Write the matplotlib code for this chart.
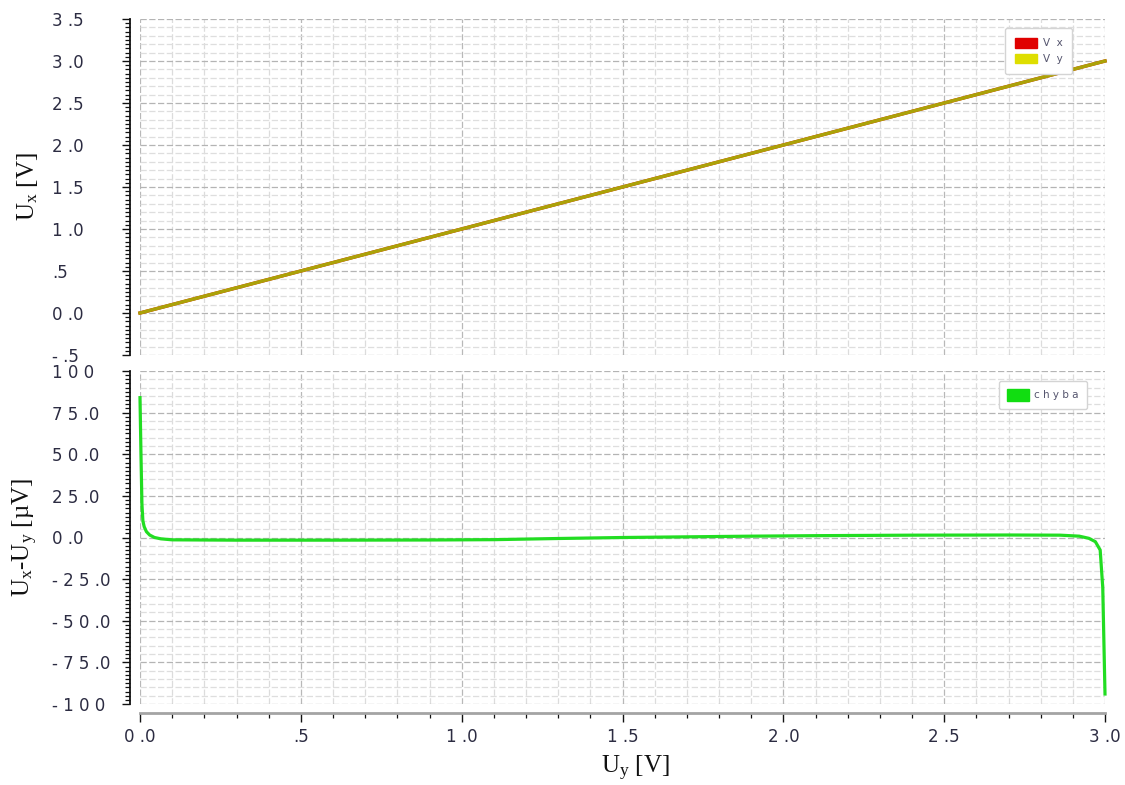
import numpy as np
import matplotlib
matplotlib.use("Agg")
import matplotlib.pyplot as plt
from matplotlib.patches import Patch

# ---- data -------------------------------------------------------------
# sweep of the input voltage Uy [V]
uy_sweep = [0.0, 3.0]
# output voltages over the sweep [V]
vx = [0.0, 3.0]
vy = [0.0, 3.0]

# error Ux - Uy [uV] versus Uy [V]
err_uy = [0.000, 0.003, 0.006, 0.009, 0.013, 0.020, 0.030, 0.045, 0.065,
          0.10, 0.30, 0.60, 0.90, 1.10, 1.30, 1.50, 1.70, 1.90, 2.10,
          2.40, 2.70, 2.86, 2.92, 2.95, 2.97, 2.985, 2.993, 3.000]
chyba = [84.0, 50.0, 20.0, 10.0, 6.5, 3.5, 1.5, 0.0, -0.8,
         -1.4, -1.6, -1.6, -1.5, -1.3, -0.6, 0.0, 0.4, 0.8, 1.1,
         1.4, 1.5, 1.4, 0.8, -0.5, -2.5, -7.5, -30.0, -94.0]

# tick positions and labels
x_ticks = [0.0, 0.5, 1.0, 1.5, 2.0, 2.5, 3.0]
x_labels = ["0 .0", ".5", "1 .0", "1 .5", "2 .0", "2 .5", "3 .0"]
top_ticks = [-0.5, 0.0, 0.5, 1.0, 1.5, 2.0, 2.5, 3.0, 3.5]
top_labels = ["- .5", "0 .0", ".5", "1 .0", "1 .5", "2 .0", "2 .5", "3 .0", "3 .5"]
bot_ticks = [-100, -75, -50, -25, 0, 25, 50, 75, 100]
bot_labels = ["- 1 0 0", "- 7 5 .0", "- 5 0 .0", "- 2 5 .0", "0 .0",
              "2 5 .0", "5 0 .0", "7 5 .0", "1 0 0"]

# ---- style ------------------------------------------------------------
plt.rcParams["mathtext.fontset"] = "custom"
plt.rcParams["mathtext.rm"] = "Liberation Serif"
plt.rcParams["mathtext.it"] = "Liberation Serif:italic"

TICK_COLOR = "#2c2c42"
LEG_TEXT = "#55556e"
LABEL_FONT = dict(family="Liberation Serif", size=18, color="#111111")

W, H = 1125, 785
fig = plt.figure(figsize=(W / 100, H / 100), dpi=100)
ax1 = fig.add_axes([140 / W, 1 - 355 / H, 965 / W, 336 / H])
ax2 = fig.add_axes([140 / W, 1 - 704 / H, 965 / W, 333 / H])


def draw_grid(ax, yvals, ymajor):
    for xv in np.arange(0.0, 3.0001, 0.1):
        major = abs(xv / 0.5 - round(xv / 0.5)) < 1e-6
        ax.axvline(xv, color="#b8b8b8" if major else "#dcdcdc",
                   lw=0.9, ls=(0, (5, 2)), zorder=0)
    for yv in yvals:
        major = abs(yv / ymajor - round(yv / ymajor)) < 1e-6
        ax.axhline(yv, color="#b4b4b4" if major else "#dedede",
                   lw=0.9, ls=(0, (5, 2)), zorder=0)


def style_axes(ax):
    for side in ("top", "right"):
        ax.spines[side].set_visible(False)
    ax.spines["left"].set_position(("outward", 7.2))
    ax.spines["left"].set_color("#111111")
    ax.spines["left"].set_linewidth(1.3)
    ax.set_xlim(0, 3)
    ax.tick_params(axis="y", which="major", length=5.8, width=1.0,
                   color="#111111", pad=50.4, labelsize=12,
                   labelcolor=TICK_COLOR)
    ax.tick_params(axis="y", which="minor", length=3.6, width=0.9,
                   color="#111111")


def make_legend(ax, handles, anchor, hh, bp):
    leg = ax.legend(handles=handles, loc="upper right", bbox_to_anchor=anchor,
                    fontsize=7.5, handlelength=2.1, handleheight=hh,
                    labelspacing=0.5, handletextpad=0.55, borderpad=bp,
                    borderaxespad=0.0, fancybox=True, framealpha=1.0,
                    edgecolor="#d4d4d4", labelcolor=LEG_TEXT)
    leg.get_frame().set_linewidth(1.0)
    return leg


# ---- top panel: output voltages -------------------------------------
style_axes(ax1)
ax1.spines["bottom"].set_visible(False)
ax1.set_ylim(-0.5, 3.5)
draw_grid(ax1, np.arange(-0.5, 3.5001, 0.1), 0.5)
ax1.plot(uy_sweep, vx, color="#e00000", lw=2.4, zorder=3, clip_on=False)
ax1.plot(uy_sweep, vy, color="#aba208", lw=2.5, zorder=4, clip_on=False)
ax1.set_yticks(top_ticks)
ax1.set_yticklabels(top_labels)
ax1.set_yticks(np.arange(-0.5, 3.5001, 0.05), minor=True)
ax1.set_xticks([])
for t in ax1.get_yticklabels():
    t.set_horizontalalignment("left")
ax1.set_ylabel("U$_\\mathrm{x}$ [V]", **LABEL_FONT)
ax1.yaxis.set_label_coords(-0.104, 0.5)
make_legend(ax1,
            [Patch(facecolor="#e00000", edgecolor="#e00000", label="V  x"),
             Patch(facecolor="#dede00", edgecolor="#dede00", label="V  y")],
            (0.966, 0.973), 1.05, 0.95)

# ---- bottom panel: error --------------------------------------------
style_axes(ax2)
ax2.spines["bottom"].set_position(("outward", 6.5))
ax2.spines["bottom"].set_color("#a4a4a4")
ax2.spines["bottom"].set_linewidth(2.0)
ax2.set_ylim(-100, 100)
draw_grid(ax2, np.arange(-100, 100.001, 5), 25)
ax2.plot(err_uy, chyba, color="#22dd22", lw=2.3, zorder=3, clip_on=False)
ax2.set_yticks(bot_ticks)
ax2.set_yticklabels(bot_labels)
ax2.set_yticks(np.arange(-100, 100.001, 2.5), minor=True)
for t in ax2.get_yticklabels():
    t.set_horizontalalignment("left")
ax2.set_xticks(x_ticks)
ax2.set_xticklabels(x_labels)
ax2.set_xticks(np.arange(0, 3.0001, 0.1), minor=True)
ax2.tick_params(axis="x", which="major", length=6.5, width=1.0,
                color="#111111", pad=4, labelsize=12, labelcolor=TICK_COLOR)
ax2.tick_params(axis="x", which="minor", length=3.6, width=0.9,
                color="#111111")
ax2.set_ylabel("U$_\\mathrm{x}$-U$_\\mathrm{y}$ [µV]", **LABEL_FONT)
ax2.yaxis.set_label_coords(-0.104, 0.5)
ax2.set_xlabel("U$_\\mathrm{y}$ [V]", **LABEL_FONT)
ax2.xaxis.set_label_coords(0.513, -0.150)
make_legend(ax2,
            [Patch(facecolor="#11dd11", edgecolor="#11dd11", label="c h y b a")],
            (0.981, 0.97), 1.45, 0.75)

fig.savefig("out.png", dpi=100, facecolor="white")
